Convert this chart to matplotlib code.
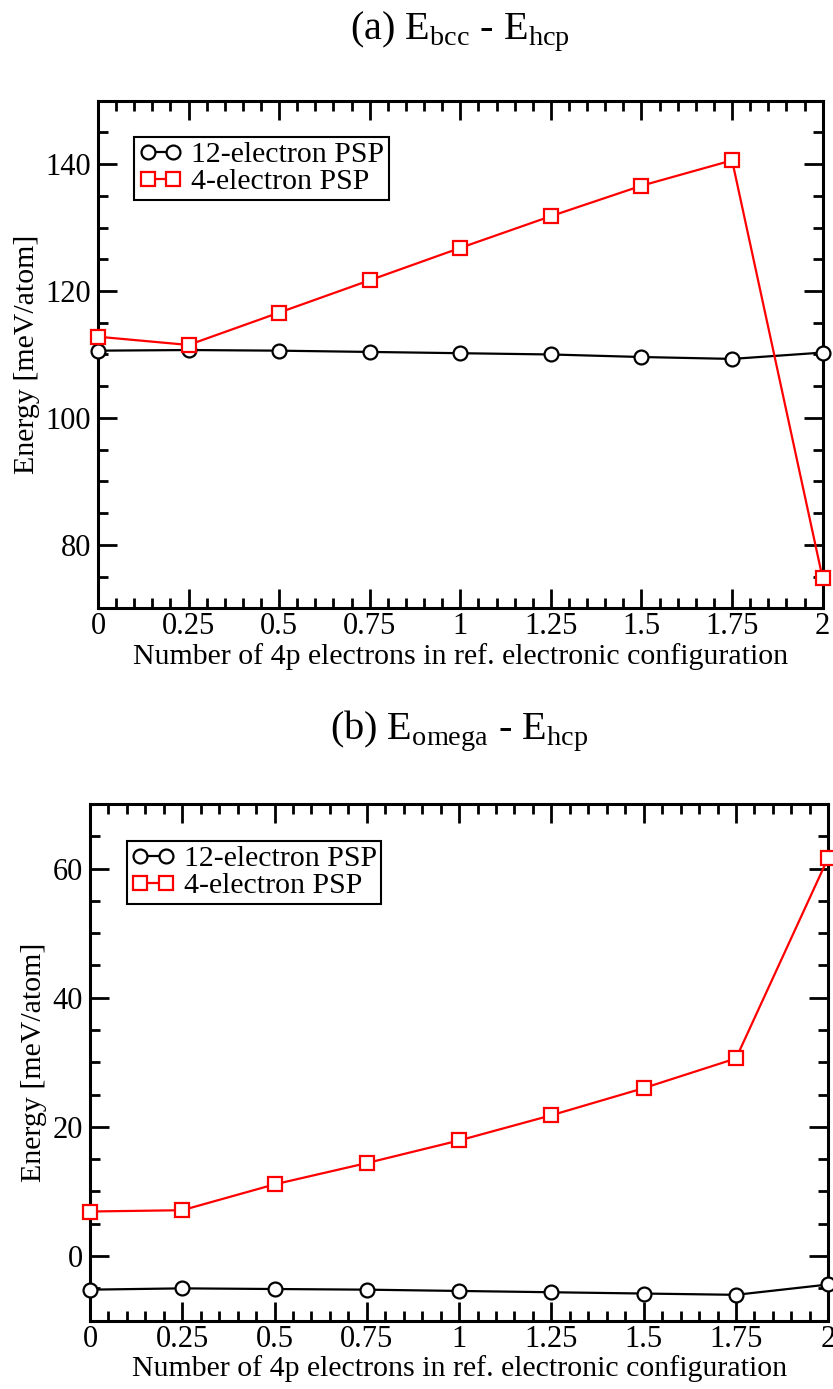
"""Energy differences between phases vs. number of 4p electrons in the
reference configuration, for 12- and 4-electron pseudopotentials."""

import matplotlib

matplotlib.use("Agg")
import matplotlib.pyplot as plt
from matplotlib.ticker import MultipleLocator

plt.rcParams["font.family"] = ["Liberation Serif", "DejaVu Serif"]
plt.rcParams["mathtext.fontset"] = "custom"
plt.rcParams["mathtext.rm"] = "Liberation Serif"

n_4p = [0, 0.25, 0.5, 0.75, 1, 1.25, 1.5, 1.75, 2]
n_4p_labels = ["0", "0.25", "0.5", "0.75", "1", "1.25", "1.5", "1.75", "2"]

# (a) E_bcc - E_hcp  [meV/atom]
bcc_psp12 = [110.6, 110.7, 110.6, 110.4, 110.2, 110.0, 109.6, 109.3, 110.3]
bcc_psp4 = [112.8, 111.5, 116.6, 121.7, 126.8, 131.8, 136.6, 140.6, 74.7]

# (b) E_omega - E_hcp  [meV/atom]
omega_psp12 = [-5.2, -5.0, -5.1, -5.2, -5.4, -5.6, -5.8, -6.0, -4.4]
omega_psp4 = [6.9, 7.1, 11.1, 14.4, 17.9, 21.8, 26.0, 30.6, 61.7]

TICK_FS = 22
LABEL_FS = 21.5
LEGEND_FS = 21.5
TITLE_FS = 29


def style_axes(ax, ylim, ymajor):
    ax.set_xlim(0, 2)
    ax.set_ylim(*ylim)
    ax.xaxis.set_major_locator(MultipleLocator(0.25))
    ax.xaxis.set_minor_locator(MultipleLocator(0.05))
    ax.yaxis.set_major_locator(MultipleLocator(ymajor))
    ax.yaxis.set_minor_locator(MultipleLocator(5))
    ax.set_xticks(n_4p)
    ax.set_xticklabels(n_4p_labels)
    ax.tick_params(which="both", direction="in", top=True, right=True,
                   width=2, labelsize=TICK_FS)
    ax.tick_params(which="major", length=14)
    ax.tick_params(which="minor", length=7)
    ax.tick_params(axis="x", pad=3)
    ax.tick_params(axis="y", pad=5)
    for s in ax.spines.values():
        s.set_linewidth(2.2)
    ax.set_xlabel("Number of 4p electrons in ref. electronic configuration",
                  fontsize=LABEL_FS, labelpad=1)
    ax.set_ylabel("Energy [meV/atom]", fontsize=LABEL_FS, labelpad=4)


def draw_series(ax, y12, y4):
    ax.plot(n_4p, y12, color="black", lw=1.6, marker="o", ms=10,
            mfc="white", mec="black", mew=1.6, clip_on=False,
            label="12-electron PSP", zorder=3)
    ax.plot(n_4p, y4, color="red", lw=1.6, marker="s", ms=9.5,
            mfc="white", mec="red", mew=1.6, clip_on=False,
            label="4-electron PSP", zorder=3)
    leg = ax.legend(loc="upper left", bbox_to_anchor=(0.05, 0.9285),
                    borderaxespad=0, numpoints=2, handlelength=1.45,
                    handletextpad=0.3, labelspacing=0.0, borderpad=0.15,
                    fancybox=False, framealpha=1, edgecolor="black",
                    fontsize=LEGEND_FS)
    leg.get_frame().set_linewidth(1.5)


fig = plt.figure(figsize=(8.33, 13.89), dpi=100)
ax_a = fig.add_axes([0.1176, 0.5621, 0.870, 0.3654])
ax_b = fig.add_axes([0.1080, 0.0492, 0.8863, 0.3720])

draw_series(ax_a, bcc_psp12, bcc_psp4)
style_axes(ax_a, (70, 150), 20)

draw_series(ax_b, omega_psp12, omega_psp4)
style_axes(ax_b, (-10, 70), 20)

fig.text(460 / 833, 1 - 39 / 1389, r"(a) E$_{\rm bcc}$ - E$_{\rm hcp}$",
         ha="center", va="baseline", fontsize=TITLE_FS)
fig.text(459 / 833, 1 - 739 / 1389, r"(b) E$_{\rm omega}$ - E$_{\rm hcp}$",
         ha="center", va="baseline", fontsize=TITLE_FS)

fig.savefig("out.png", dpi=100)
